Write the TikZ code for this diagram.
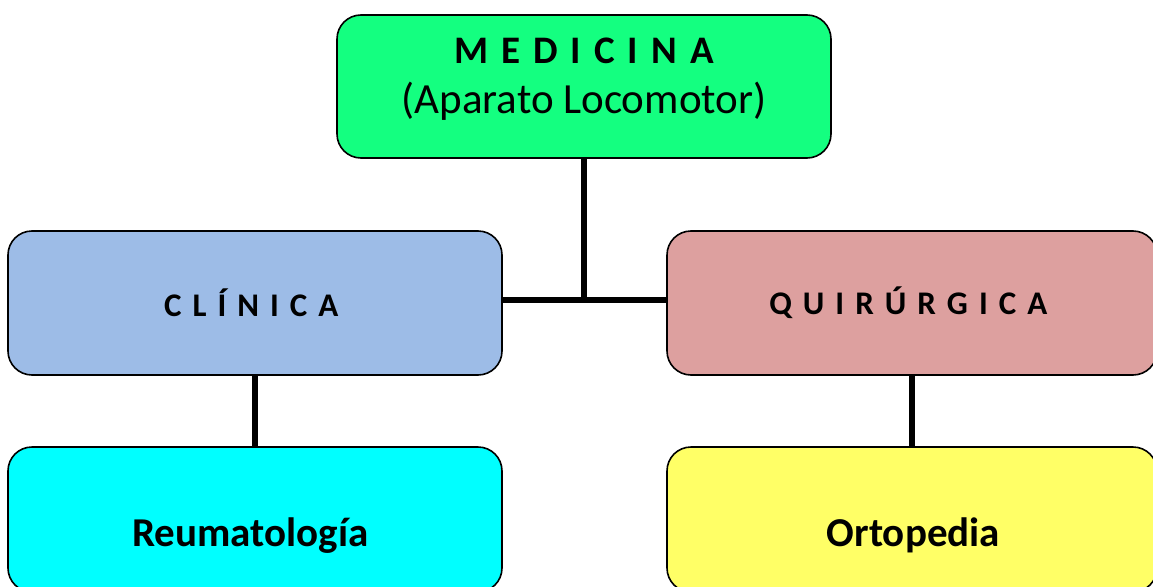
\documentclass[tikz,border=0pt]{standalone}
\usepackage{fontspec}
\setmainfont{Carlito}
\usepackage{xcolor}
\usetikzlibrary{positioning}
\definecolor{verdeMed}{HTML}{14FF80}
\definecolor{azulClin}{HTML}{9DBCE7}
\definecolor{rosaQuir}{HTML}{DDA09F}
\definecolor{cianReu}{HTML}{00FFFF}
\definecolor{amarOrto}{HTML}{FFFF66}

\tikzset{
  caja/.style={draw=black,line width=1.6pt,rounded corners=24pt,
    align=center,inner sep=0pt},
  enlace/.style={line width=5.5pt}
}

\begin{document}
\begin{tikzpicture}[x=1pt,y=-1pt,font=\fontsize{41}{50}\selectfont]
    \useasboundingbox (0,0) rectangle (1153,586);
    % nivel superior
    \node[caja,fill=verdeMed,minimum width=494pt,minimum height=143pt,text depth=22pt] (medicina) at (584,86.5) {
      {\fontsize{39}{46}\selectfont\bfseries M\,\,E\,\,D\,\,I\,\,C\,\,I\,\,N\,\,A}\\[0pt]
      {\fontsize{43}{52}\selectfont(Aparato Locomotor)}
    };
    % ramas
    \node[caja,fill=azulClin,minimum width=494pt,minimum height=144pt] (clinica) at (255,303) {
      \fontsize{33}{40}\selectfont\bfseries C\,\,L\,\,Í\,\,N\,\,I\,\,C\,\,A
    };
    \node[caja,fill=rosaQuir,minimum width=490pt,minimum height=144pt] (quirurgica) at (912,303) {
      \fontsize{33}{40}\selectfont\bfseries Q\,\,U\,\,I\,\,R\,\,Ú\,\,R\,\,G\,\,I\,\,C\,\,A
    };
    % hojas
    \node[caja,fill=cianReu,minimum width=494pt,minimum height=145pt,text height=60pt] (reuma) at (255,519.5) {
      \bfseries Reumatología
    };
    \node[caja,fill=amarOrto,minimum width=490pt,minimum height=145pt,text height=60pt] (orto) at (912,519.5) {
      \hspace*{12pt}\bfseries Ortopedia
    };
    \draw[enlace] (medicina.south) -- (medicina.south |- clinica.east);
    \draw[enlace] ([yshift=3pt]clinica.east) -- ([yshift=3pt]quirurgica.west);
    \draw[enlace] (clinica.south) -- (reuma.north);
    \draw[enlace] (quirurgica.south) -- (orto.north);
  \end{tikzpicture}
\end{document}
